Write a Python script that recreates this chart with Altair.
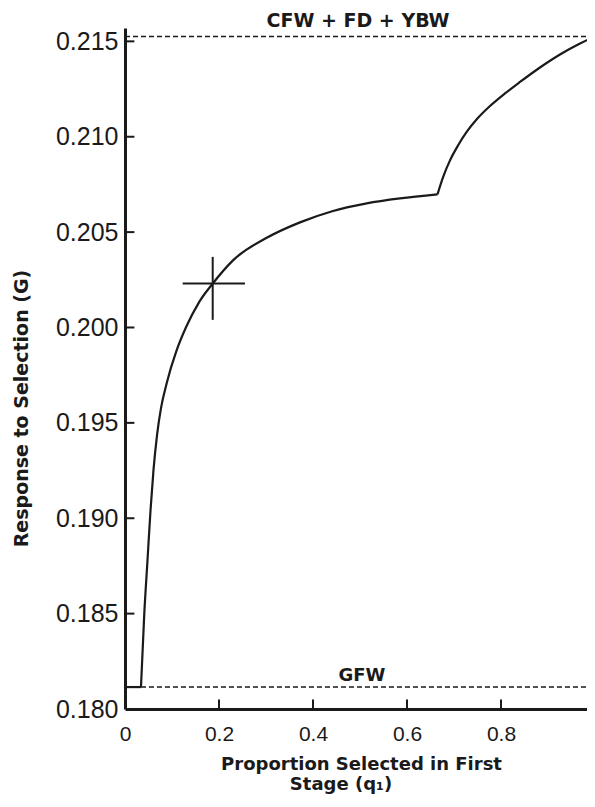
import altair as alt
import pandas as pd

# ---- data ----
# flat start of the curve (at the GFW level)
base_q = [0.0, 0.034]
base_g = [0.18115, 0.18115]
# first rising branch up to the kink
rise_q = [0.034, 0.0411, 0.0479, 0.0543, 0.0606, 0.0681, 0.0766, 0.0887, 0.1100, 0.1298,
          0.1574, 0.1872, 0.2298, 0.3015, 0.3723, 0.4426, 0.5143, 0.5851, 0.6649]
rise_g = [0.18115, 0.18503, 0.18781, 0.19042, 0.19252, 0.19435, 0.19577, 0.19708, 0.19881, 0.20001,
          0.20132, 0.20232, 0.20352, 0.20470, 0.20551, 0.20611, 0.20651, 0.20677, 0.20698]
# second branch after the kink
upper_q = [0.6649, 0.6766, 0.6915, 0.7085, 0.7277, 0.7489, 0.7766, 0.8085, 0.8404,
           0.8830, 0.9255, 0.9681, 1.0]
upper_g = [0.20698, 0.20787, 0.20876, 0.20954, 0.21028, 0.21093, 0.21161, 0.21227, 0.21287,
           0.21363, 0.21431, 0.21489, 0.21525]

# reference levels (dashed lines)
level_names = ["CFW + FD + YBW", "GFW"]
level_values = [0.21525, 0.18115]

# optimum cross
cross_q = 0.1866
cross_g = 0.2023
cross_q_range = [0.1228, 0.2553]
cross_g_range = [0.2004, 0.2037]

x_ticks = [0, 0.2, 0.4, 0.6, 0.8, 1.0]
y_ticks = [0.180, 0.185, 0.190, 0.195, 0.200, 0.205, 0.210, 0.215]

x_title_line1 = "Proportion Selected in First"
x_title_line2 = "Stage (q\u2081)"
y_title = "Response to Selection (G)"

# ---- tables ----
curve = pd.DataFrame({
    "q": base_q + rise_q + upper_q,
    "g": base_g + rise_g + upper_g,
    "seg": ["a"] * len(base_q) + ["b"] * len(rise_q) + ["c"] * len(upper_q),
})
levels = pd.DataFrame({"name": level_names, "g": level_values,
                       "q": [0.0, 0.0], "q2": [1.0, 1.0]})
cross_h = pd.DataFrame({"q": [cross_q_range[0]], "q2": [cross_q_range[1]], "g": [cross_g]})
cross_v = pd.DataFrame({"q": [cross_q], "g": [cross_g_range[0]], "g2": [cross_g_range[1]]})
yt = pd.DataFrame({"g": y_ticks[1:], "q": [0.0] * (len(y_ticks) - 1),
                   "q2": [0.02] * (len(y_ticks) - 1)})
xt = pd.DataFrame({"q": x_ticks[1:-1], "g": [0.180] * (len(x_ticks) - 2),
                   "g2": [0.1805] * (len(x_ticks) - 2)})
title2 = pd.DataFrame({"t": [x_title_line2]})

INK = "#1a1a1a"
# the reference is cropped just before q1 = 1 at the right edge
xscale = alt.Scale(domain=[0, 0.983], nice=False, zero=False)
yscale = alt.Scale(domain=[0.180, 0.2157], nice=False, zero=False)

xaxis = alt.Axis(
    values=x_ticks,
    labelExpr="datum.value == 0 ? '0' : datum.value == 1 ? '1' : format(datum.value, '.1f')",
    ticks=False, tickSize=0, grid=False,
    domainColor=INK, domainWidth=3,
    labelFont="Liberation Sans", labelFontSize=21, labelColor=INK,
    labelPadding=14, labelFlush=False, labelOverlap=False,
    title=x_title_line1,
    titleFont="DejaVu Sans", titleFontSize=18, titleFontWeight="bold",
    titleColor=INK, titleBaseline="alphabetic", titleY=60, titleX=236,
)
yaxis = alt.Axis(
    values=y_ticks, format=".3f",
    ticks=False, tickSize=0, grid=False,
    domainColor=INK, domainWidth=3,
    labelFont="Liberation Sans", labelFontSize=25, labelColor=INK,
    labelPadding=7, labelFlush=False, labelOverlap=False,
    title=y_title,
    titleFont="DejaVu Sans", titleFontSize=19, titleFontWeight="bold",
    titleColor=INK, titleBaseline="alphabetic", titleX=-98, titleY=380,
)

line = alt.Chart(curve).mark_line(
    interpolate="monotone", color=INK, strokeWidth=2.2
).encode(
    x=alt.X("q:Q", scale=xscale, axis=xaxis),
    y=alt.Y("g:Q", scale=yscale, axis=yaxis),
    detail="seg:N",
)

dashed = alt.Chart(levels).mark_rule(
    color=INK, strokeWidth=1.5, strokeDash=[5, 3]
).encode(x="q:Q", x2="q2", y="g:Q")

top_label = alt.Chart(levels.iloc[[0]]).mark_text(
    font="DejaVu Sans", fontSize=19, fontWeight="bold", color=INK,
    baseline="alphabetic", dy=-10
).encode(x=alt.value(233), y="g:Q", text="name:N")

gfw_label = alt.Chart(levels.iloc[[1]]).mark_text(
    font="DejaVu Sans", fontSize=18, fontWeight="bold", color=INK,
    baseline="alphabetic", dy=-6
).encode(x=alt.value(237), y="g:Q", text="name:N")

x_title2 = alt.Chart(title2).mark_text(
    font="DejaVu Sans", fontSize=18, fontWeight="bold", color=INK,
    baseline="alphabetic", align="center"
).encode(x=alt.value(216), y=alt.value(762), text="t:N")

ch = alt.Chart(cross_h).mark_rule(color=INK, strokeWidth=2).encode(
    x="q:Q", x2="q2", y="g:Q")
cv = alt.Chart(cross_v).mark_rule(color=INK, strokeWidth=2).encode(
    x="q:Q", y="g:Q", y2="g2")

ytick_rules = alt.Chart(yt).mark_rule(color=INK, strokeWidth=2).encode(
    x="q:Q", x2="q2", y="g:Q")
xtick_rules = alt.Chart(xt).mark_rule(color=INK, strokeWidth=2).encode(
    x="q:Q", y="g:Q", y2="g2")

chart = alt.layer(
    line, dashed, top_label, gfw_label, x_title2, ch, cv, ytick_rules, xtick_rules
).properties(
    width=462, height=681,
    autosize=alt.AutoSizeParams(type="none"),
    padding={"left": 117, "top": 20, "right": 0, "bottom": 89},
    background="white",
).configure_view(stroke=None)

chart.save("out.html", embed_options={"renderer": "svg", "actions": False})
